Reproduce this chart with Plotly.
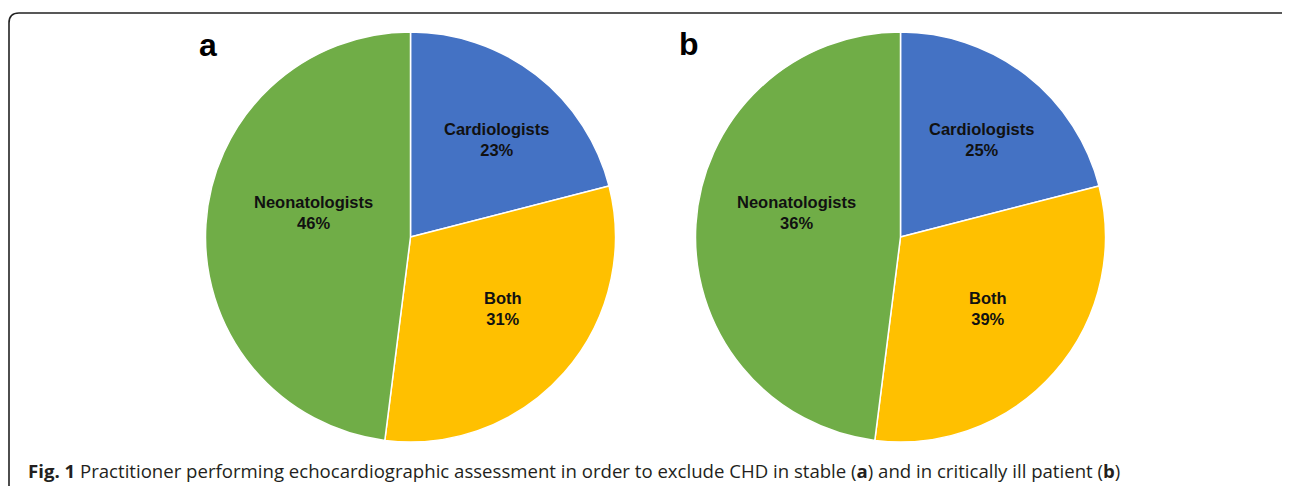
import plotly.graph_objects as go

# Data
categories = ["Cardiologists", "Both", "Neonatologists"]
# slice shares as drawn in the picture (same geometry in both panels)
shares_a = [21, 31, 48]
shares_b = [21, 31, 48]
# percentages printed on the slices
pct_a = ["23%", "31%", "46%"]
pct_b = ["25%", "39%", "36%"]
panel_letters = ["a", "b"]
caption_bold = "Fig. 1"
caption_text = ("Practitioner performing echocardiographic assessment in order to exclude CHD "
                "in stable (<b>a</b>) and in critically ill patient (<b>b</b>)")

colors = ["#4472C4", "#FFC000", "#70AD47"]
PAGE_OFF = 8  # default body margin of the html page
W, H = 1290 - PAGE_OFF, 486 - PAGE_OFF


def px_x(x):
    return (x - PAGE_OFF) / W


def px_y(y):
    return 1 - (y - PAGE_OFF) / H


fig = go.Figure()

centers = [(410.5, 237), (900.5, 237)]
R = 205
# label offsets from the pie centre (px), per panel, as placed in the original
label_offsets = [
    [(86, -97), (92.5, 71), (-97, -25)],
    [(81, -97), (87, 71), (-104, -25)],
]
for (cx, cy), shares, pct, offs in zip(centers, [shares_a, shares_b], [pct_a, pct_b], label_offsets):
    fig.add_trace(go.Pie(
        labels=categories,
        values=shares,
        sort=False,
        direction="clockwise",
        rotation=0,
        marker=dict(colors=colors, line=dict(color="white", width=1.5)),
        textinfo="none",
        domain=dict(x=[px_x(cx - R), px_x(cx + R)], y=[px_y(cy + R), px_y(cy - R)]),
        showlegend=False,
        hoverinfo="label+percent",
    ))
    for cat, p, (dx, dy) in zip(categories, pct, offs):
        fig.add_annotation(x=px_x(cx + dx), y=px_y(cy + dy), xref="paper", yref="paper",
                           xanchor="center", yanchor="middle",
                           text=f"<b>{cat}<br>{p}</b>", showarrow=False,
                           font=dict(family="Liberation Sans, Arial", size=16.5, color="#111111"))

# panel letters
for letter, (lx, ly) in zip(panel_letters, [(208, 45), (689, 44)]):
    fig.add_annotation(x=px_x(lx), y=px_y(ly), xref="paper", yref="paper",
                       xanchor="center", yanchor="middle",
                       text=f"<b>{letter}</b>", showarrow=False,
                       font=dict(family="Liberation Sans, Arial", size=32, color="#000000"))

# caption
fig.add_annotation(x=px_x(26), y=px_y(470), xref="paper", yref="paper",
                   xanchor="left", yanchor="middle",
                   text=f"<b>{caption_bold}</b> {caption_text}", showarrow=False,
                   font=dict(family="Open Sans, Noto Sans", size=18.6, color="#231f20"))

# rounded frame (extends beyond right and bottom edges)
r = 10
path = (f"M {px_x(9)},{px_y(500)} L {px_x(9)},{px_y(13 + r)} "
        f"Q {px_x(9)},{px_y(13)} {px_x(9 + r)},{px_y(13)} L {px_x(1300)},{px_y(13)}")
fig.add_shape(type="path", path=path, xref="paper", yref="paper",
              line=dict(color="#222222", width=1.6))

fig.update_layout(
    width=W, height=H,
    margin=dict(l=0, r=0, t=0, b=0),
    paper_bgcolor="white", plot_bgcolor="white",
)

fig.write_html("out.html")
